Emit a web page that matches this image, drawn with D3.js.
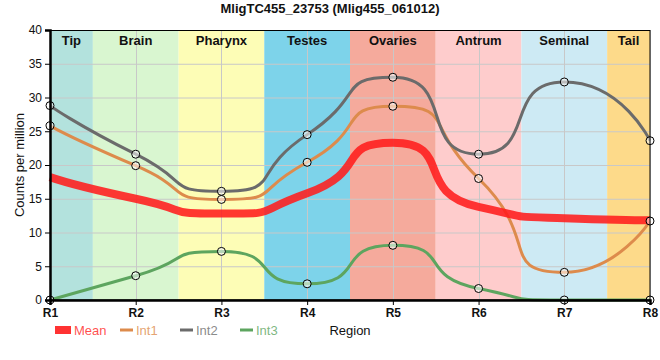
<!DOCTYPE html>
<html><head><meta charset="utf-8">
<script src="https://cdn.jsdelivr.net/npm/d3@7"></script>
<style>
html,body{margin:0;padding:0;background:#fff;}
svg{display:block;font-family:"Liberation Sans",Arial,sans-serif;}
</style></head>
<body><svg id="c" width="660" height="360"></svg>
<script>
const title = "MligTC455_23753 (Mlig455_061012)";
const regions = ["R1","R2","R3","R4","R5","R6","R7","R8"];
const tissues = ["Tip","Brain","Pharynx","Testes","Ovaries","Antrum","Seminal","Tail"];
const mean = [18.2, 15.0, 12.8, 15.8, 23.3, 13.8, 12.1, 11.8];
const int1 = [25.8, 19.9, 14.9, 20.4, 28.7, 18.0, 4.1, 11.7];
const int2 = [28.8, 21.6, 16.1, 24.5, 33.0, 21.6, 32.3, 23.6];
const int3 = [0, 3.6, 7.2, 2.4, 8.1, 1.7, 0, 0];
const yTicks = [0,5,10,15,20,25,30,35,40];
const seriesNames = ["Mean","Int1","Int2","Int3"];

const tissueColors = ["#b3e2dd","#d9f6d0","#fdfdb6","#7dd3ea","#f5aa9c","#fecccc","#cdeaf4","#fdda8a"];
const seriesColors = ["#ff1c1c","#dd8b4c","#6b6b6b","#5da55f"];
const seriesWidths = [8,3,3,3];

const M = {l:50, r:650, t:30, b:300};
const svg = d3.select("#c");
const x = d3.scalePoint().domain(regions).range([M.l, M.r]);
const y = d3.scaleLinear().domain([0,40]).range([M.b, M.t]);
const step = x.step();

// ECharts-like smoothing curve
function SmoothCurve(context, s){ this._context = context; this._s = s; }
SmoothCurve.prototype = {
  areaStart(){}, areaEnd(){},
  lineStart(){ this._p = []; },
  point(px,py){ this._p.push([+px,+py]); },
  lineEnd(){
    const P = this._p, n = P.length, s = this._s, c = this._context;
    if (!n) return;
    const cl = (v,a,b)=>Math.max(Math.min(a,b), Math.min(Math.max(a,b), v));
    c.moveTo(P[0][0], P[0][1]);
    let c0x = P[0][0], c0y = P[0][1];
    for (let i=1;i<n;i++){
      const [xx,yy] = P[i], [px,py] = P[i-1];
      let c1x, c1y, ncx = xx, ncy = yy;
      if (i === n-1){ c1x = xx; c1y = yy; }
      else {
        const [nx,ny] = P[i+1];
        let vx = nx-px, vy = ny-py;
        const lp = Math.hypot(xx-px, yy-py), ln = Math.hypot(nx-xx, ny-yy);
        const r = ln/(ln+lp);
        ncx = cl(xx + vx*s*r, nx, xx); ncy = cl(yy + vy*s*r, ny, yy);
        vx = ncx-xx; vy = ncy-yy;
        c1x = cl(xx - vx*lp/ln, px, xx); c1y = cl(yy - vy*lp/ln, py, yy);
        vx = xx-c1x; vy = yy-c1y;
        ncx = xx + vx*ln/lp; ncy = yy + vy*ln/lp;
      }
      c.bezierCurveTo(c0x,c0y,c1x,c1y,xx,yy);
      c0x = ncx; c0y = ncy;
    }
  }
};
const smoothCurve = (ctx)=> new SmoothCurve(ctx, 0.7);

// tissue bands
tissues.forEach((t,i)=>{
  const cx = x(regions[i]);
  const x0 = Math.max(M.l, cx - step/2), x1 = Math.min(M.r, cx + step/2);
  svg.append("rect").attr("x",x0).attr("y",M.t).attr("width",x1-x0).attr("height",M.b-M.t).attr("fill",tissueColors[i]);
});

// grid
svg.append("g").selectAll("line").data(yTicks).join("line")
  .attr("x1",M.l).attr("x2",M.r).attr("y1",d=>y(d)+0.5).attr("y2",d=>y(d)+0.5)
  .attr("stroke","#c8c8c8").attr("stroke-width",1);
svg.append("g").selectAll("line").data(regions).join("line")
  .attr("x1",d=>Math.round(x(d))+0.5).attr("x2",d=>Math.round(x(d))+0.5).attr("y1",M.t).attr("y2",M.b)
  .attr("stroke","#c8c8c8").attr("stroke-width",1);

// band labels
tissues.forEach((t,i)=>{
  const cx = x(regions[i]);
  const x0 = Math.max(M.l, cx - step/2), x1 = Math.min(M.r, cx + step/2);
  svg.append("text").attr("x",(x0+x1)/2).attr("y",45).attr("text-anchor","middle")
    .attr("font-size",13).attr("font-weight","bold").attr("fill","#111").text(t);
});

// lines
const data = [mean,int1,int2,int3];
const line = d3.line().x((d,i)=>x(regions[i])).y(d=>y(d)).curve(smoothCurve);
const order = [1,2,3,0];
order.forEach(k=>{
  svg.append("path").attr("d",line(data[k])).attr("fill","none")
    .attr("stroke",seriesColors[k]).attr("stroke-width",seriesWidths[k])
    .attr("stroke-opacity", k===0?0.88:1).attr("stroke-linejoin","round");
});
// markers
[1,2,3].forEach(k=>{
  svg.append("g").selectAll("circle").data(data[k]).join("circle")
    .attr("cx",(d,i)=>x(regions[i])).attr("cy",d=>y(d)).attr("r",4)
    .attr("fill","#fff").attr("fill-opacity",0.55).attr("stroke","#000").attr("stroke-width",1);
});

// frame
svg.append("rect").attr("x",M.l+0.5).attr("y",M.t+0.5).attr("width",M.r-M.l-0.5).attr("height",M.b-M.t-0.5)
  .attr("fill","none").attr("stroke","#000").attr("stroke-width",1);

// axes
const yAxis = svg.append("g").attr("transform",`translate(${M.l},0)`)
  .call(d3.axisLeft(y).tickValues(yTicks).tickSize(5).tickPadding(3));
yAxis.select(".domain").attr("stroke","#000").attr("stroke-width",2.5);
yAxis.selectAll("text").attr("font-size",12).attr("fill","#111").attr("font-family","Liberation Sans, Arial, sans-serif");
const xAxis = svg.append("g").attr("transform",`translate(0,${M.b})`)
  .call(d3.axisBottom(x).tickSize(5).tickPadding(3));
xAxis.select(".domain").attr("stroke","#000").attr("stroke-width",2.5);
xAxis.selectAll("text").attr("font-size",12).attr("font-weight","bold").attr("fill","#111").attr("font-family","Liberation Sans, Arial, sans-serif");

// title
svg.append("text").attr("x",330).attr("y",13).attr("text-anchor","middle")
  .attr("font-size",13).attr("font-weight","bold").attr("fill","#111").text(title);

// axis titles
svg.append("text").attr("transform",`translate(24,${(M.t+M.b)/2}) rotate(-90)`).attr("text-anchor","middle")
  .attr("font-size",13).attr("fill","#111").text("Counts per million");
svg.append("text").attr("x",(M.l+M.r)/2).attr("y",335).attr("text-anchor","middle")
  .attr("font-size",13).attr("fill","#111").text("Region");

// legend
const legX = [55,120,180,240];
seriesNames.forEach((nm,k)=>{
  const g = svg.append("g").attr("transform",`translate(${legX[k]},330)`);
  if (k===0) g.append("rect").attr("x",0).attr("y",-4).attr("width",16).attr("height",8).attr("fill",seriesColors[k]).attr("fill-opacity",0.9);
  else g.append("line").attr("x1",0).attr("x2",13).attr("y1",0).attr("y2",0).attr("stroke",seriesColors[k]).attr("stroke-width",3);
  g.append("text").attr("x",k===0?19:16).attr("y",5).attr("font-size",13).attr("fill",seriesColors[k]).attr("fill-opacity",0.8).text(nm);
});
</script></body></html>
